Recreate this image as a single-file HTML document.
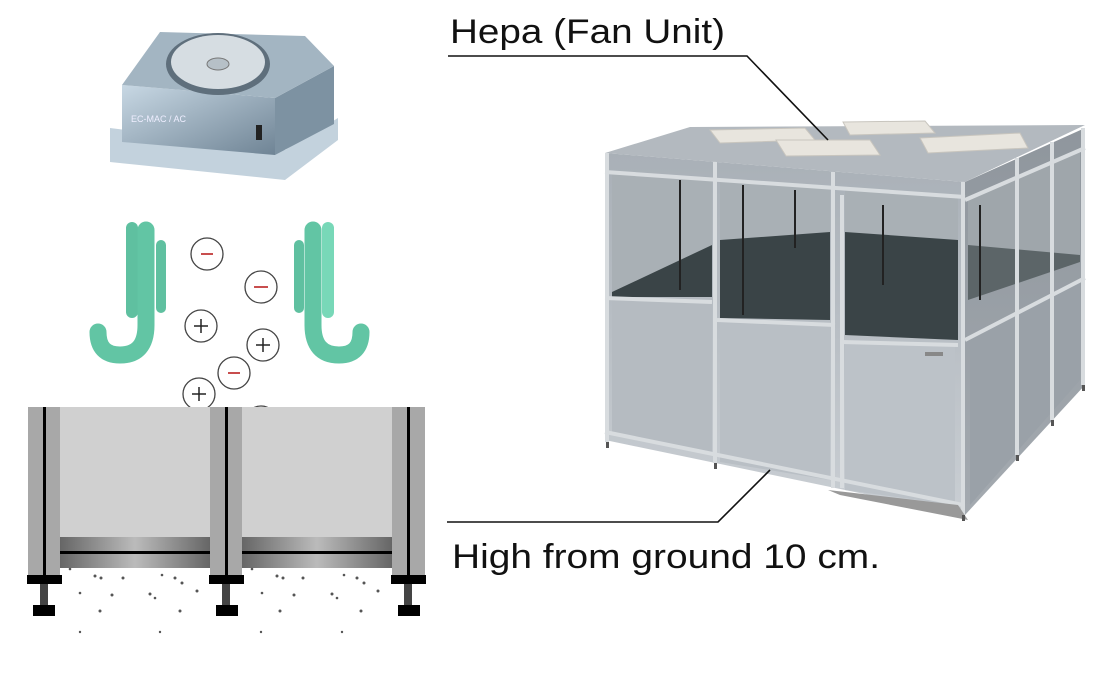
<!DOCTYPE html>
<html><head><meta charset="utf-8"><style>
html,body{margin:0;padding:0;background:#fff;}
svg{display:block;}
text{font-family:"Liberation Sans",Arial,sans-serif;}
</style></head><body>
<svg width="1116" height="676" viewBox="0 0 1116 676" xmlns="http://www.w3.org/2000/svg">
<defs>
<linearGradient id="bar" x1="0" x2="1" y1="0" y2="0">
<stop offset="0" stop-color="#666"/><stop offset="0.5" stop-color="#bbb"/><stop offset="1" stop-color="#666"/>
</linearGradient>
<linearGradient id="fanbox" x1="0" x2="1" y1="0" y2="1">
<stop offset="0" stop-color="#c8d8e4"/><stop offset="1" stop-color="#6f8495"/>
</linearGradient>
<linearGradient id="front" x1="0" x2="0" y1="0" y2="1">
<stop offset="0" stop-color="#a9b0b7"/><stop offset="1" stop-color="#c9ced3"/>
</linearGradient>
<linearGradient id="side" x1="0" x2="0" y1="0" y2="1">
<stop offset="0" stop-color="#8f969d"/><stop offset="1" stop-color="#a4aab0"/>
</linearGradient>
</defs>

<!-- Fan unit top-left -->
<polygon points="110,128 285,150 338,118 338,140 285,180 110,162" fill="#c3d2dd"/>
<polygon points="122,85 275,98 275,155 122,142" fill="url(#fanbox)"/>
<polygon points="275,98 334,66 334,124 275,155" fill="#7d92a2"/>
<polygon points="122,85 160,32 305,36 334,66 275,98" fill="#a3b5c2"/>
<ellipse cx="218" cy="64" rx="52" ry="31" fill="#5f6f7c"/>
<ellipse cx="218" cy="62" rx="47" ry="27" fill="#d6dde2"/>
<ellipse cx="218" cy="64" rx="11" ry="6" fill="#b6c0c7" stroke="#777"/>
<text x="131" y="122" font-size="9" fill="#eef">EC-MAC / AC</text>
<rect x="256" y="125" width="6" height="15" fill="#222"/>

<!-- Ions -->
<g fill="#fff" stroke="#444" stroke-width="1.3">
<circle cx="207" cy="254" r="16"/><circle cx="261" cy="287" r="16"/>
<circle cx="201" cy="326" r="16"/><circle cx="263" cy="345" r="16"/>
<circle cx="234" cy="373" r="16"/><circle cx="199" cy="394" r="16"/>
<circle cx="261" cy="422" r="16"/>
</g>
<g stroke="#b22" stroke-width="1.6">
<line x1="201" y1="254" x2="213" y2="254"/><line x1="254" y1="287" x2="268" y2="287"/><line x1="228" y1="373" x2="240" y2="373"/>
</g>
<g stroke="#222" stroke-width="1.5">
<line x1="194" y1="326" x2="208" y2="326"/><line x1="201" y1="319" x2="201" y2="333"/>
<line x1="256" y1="345" x2="270" y2="345"/><line x1="263" y1="338" x2="263" y2="352"/>
<line x1="192" y1="394" x2="206" y2="394"/><line x1="199" y1="387" x2="199" y2="401"/>
</g>

<!-- Green hands -->
<g stroke-linecap="round" fill="none">
<line x1="132" y1="228" x2="132" y2="312" stroke="#5fc0a0" stroke-width="12"/>
<line x1="161" y1="245" x2="161" y2="308" stroke="#5fc0a0" stroke-width="10"/>
<path d="M146 230 L146 325 Q146 355 120 355 Q98 355 98 332" stroke="#62c5a4" stroke-width="17"/>
<path d="M313 230 L313 325 Q313 355 339 355 Q361 355 361 332" stroke="#62c5a4" stroke-width="17"/>
<line x1="299" y1="245" x2="299" y2="308" stroke="#5fc0a0" stroke-width="10"/>
<line x1="328" y1="228" x2="328" y2="312" stroke="#78d8b8" stroke-width="12"/>
</g>

<!-- Bottom-left panels -->
<rect x="60" y="407" width="150" height="130" fill="#d0d0d0"/>
<rect x="242" y="407" width="150" height="130" fill="#d0d0d0"/>
<rect x="60" y="537" width="150" height="31" fill="url(#bar)"/>
<rect x="242" y="537" width="150" height="31" fill="url(#bar)"/>
<rect x="60" y="551" width="150" height="3" fill="#000"/>
<rect x="242" y="551" width="150" height="3" fill="#000"/>
<g fill="#a8a8a8">
<rect x="28" y="407" width="32" height="168"/><rect x="210" y="407" width="32" height="168"/><rect x="392" y="407" width="33" height="168"/>
</g>
<g fill="#000">
<rect x="43" y="407" width="3" height="168"/><rect x="225" y="407" width="3" height="168"/><rect x="407" y="407" width="3" height="168"/>
<rect x="27" y="575" width="35" height="9"/><rect x="209" y="575" width="35" height="9"/><rect x="391" y="575" width="35" height="9"/>
<rect x="33" y="605" width="22" height="11"/><rect x="216" y="605" width="22" height="11"/><rect x="398" y="605" width="22" height="11"/>
</g>
<g fill="#444">
<rect x="40" y="584" width="8" height="21"/><rect x="222" y="584" width="8" height="21"/><rect x="404" y="584" width="8" height="21"/>
</g>
<g fill="#555">
<circle cx="70" cy="569" r="1.3"/><circle cx="95" cy="576" r="1.5"/><circle cx="101" cy="578" r="1.5"/><circle cx="123" cy="578" r="1.5"/><circle cx="80" cy="593" r="1.3"/><circle cx="112" cy="595" r="1.5"/><circle cx="150" cy="594" r="1.5"/><circle cx="175" cy="578" r="1.5"/><circle cx="182" cy="583" r="1.5"/><circle cx="197" cy="591" r="1.5"/><circle cx="100" cy="611" r="1.5"/><circle cx="180" cy="611" r="1.5"/><circle cx="80" cy="632" r="1.2"/><circle cx="160" cy="632" r="1.2"/><circle cx="162" cy="575" r="1.3"/><circle cx="155" cy="598" r="1.3"/>
<circle cx="252" cy="569" r="1.3"/><circle cx="277" cy="576" r="1.5"/><circle cx="283" cy="578" r="1.5"/><circle cx="303" cy="578" r="1.5"/><circle cx="262" cy="593" r="1.3"/><circle cx="294" cy="595" r="1.5"/><circle cx="332" cy="594" r="1.5"/><circle cx="357" cy="578" r="1.5"/><circle cx="364" cy="583" r="1.5"/><circle cx="378" cy="591" r="1.5"/><circle cx="280" cy="611" r="1.5"/><circle cx="361" cy="611" r="1.5"/><circle cx="261" cy="632" r="1.2"/><circle cx="342" cy="632" r="1.2"/><circle cx="344" cy="575" r="1.3"/><circle cx="337" cy="598" r="1.3"/>
</g>

<!-- Cleanroom -->
<polygon points="605,153 690,127 1085,125 965,182" fill="#b3b9bf"/>
<polygon points="605,153 965,182 965,515 605,440" fill="url(#front)"/>
<polygon points="965,182 1085,128 1085,385 965,515" fill="url(#side)"/>
<g fill="#e8e5de" stroke="#c8c5be">
<polygon points="710,130 805,128 815,140 720,143"/>
<polygon points="843,122 925,121 935,133 850,135"/>
<polygon points="776,140 870,140 880,155 786,156"/>
<polygon points="920,138 1020,133 1028,148 928,153"/>
</g>
<!-- glass upper regions -->
<polygon points="612,172 712,177 712,297 612,297" fill="#a9b0b5"/>
<polygon points="720,180 830,188 830,320 720,318" fill="#a9b0b5"/>
<polygon points="845,190 958,198 958,340 845,335" fill="#a9b0b5"/>
<polygon points="968,200 1080,150 1080,262 968,300" fill="#9fa6ab"/>
<!-- dark interior floor -->
<polygon points="612,297 612,292 712,245 712,297" fill="#3a4447"/>
<polygon points="720,240 830,232 830,320 720,318" fill="#3a4447"/>
<polygon points="845,232 958,240 958,340 845,335" fill="#3a4447"/>
<polygon points="968,245 1080,255 1080,262 968,300" fill="#5c6568"/>
<!-- lower panels -->
<polygon points="612,300 712,303 712,452 612,433" fill="#b5bbc1"/>
<polygon points="720,323 830,327 830,480 720,462" fill="#b9bfc5"/>
<polygon points="845,343 955,346 955,505 845,490" fill="#bcc2c8"/>
<polygon points="970,340 1080,280 1080,380 970,505" fill="#9aa1a8"/>
<!-- frame posts -->
<g stroke="#d8dcdf" stroke-width="4">
<line x1="607" y1="153" x2="607" y2="442"/><line x1="715" y1="162" x2="715" y2="463"/>
<line x1="833" y1="172" x2="833" y2="488"/><line x1="842" y1="195" x2="842" y2="488"/>
<line x1="963" y1="182" x2="963" y2="515"/><line x1="1017" y1="158" x2="1017" y2="455"/>
<line x1="1052" y1="142" x2="1052" y2="420"/><line x1="1083" y1="128" x2="1083" y2="385"/>
<line x1="605" y1="172" x2="965" y2="197"/><line x1="605" y1="298" x2="712" y2="302"/>
<line x1="717" y1="320" x2="835" y2="325"/><line x1="842" y1="342" x2="958" y2="345"/>
<line x1="965" y1="340" x2="1085" y2="278"/><line x1="965" y1="200" x2="1085" y2="148"/>
<line x1="605" y1="432" x2="963" y2="505"/>
</g>
<g stroke="#222" stroke-width="2">
<line x1="680" y1="180" x2="680" y2="290"/><line x1="743" y1="185" x2="743" y2="315"/>
<line x1="795" y1="190" x2="795" y2="248"/><line x1="883" y1="205" x2="883" y2="285"/>
<line x1="980" y1="205" x2="980" y2="300"/>
</g>
<polygon points="828,490 958,505 968,520 840,495" fill="#999"/>
<rect x="925" y="352" width="18" height="4" fill="#888"/>
<g fill="#555"><rect x="606" y="442" width="3" height="6"/><rect x="714" y="463" width="3" height="6"/><rect x="962" y="515" width="3" height="6"/><rect x="1016" y="455" width="3" height="6"/><rect x="1051" y="420" width="3" height="6"/><rect x="1082" y="385" width="3" height="6"/></g>

<!-- Labels -->
<text x="450" y="43" font-size="34" fill="#111" textLength="275" lengthAdjust="spacingAndGlyphs">Hepa (Fan Unit)</text>
<polyline points="448,56 747,56 828,140" fill="none" stroke="#111" stroke-width="1.6"/>
<text x="452" y="568" font-size="34" fill="#111" textLength="428" lengthAdjust="spacingAndGlyphs">High from ground 10 cm.</text>
<polyline points="447,522 718,522 770,470" fill="none" stroke="#111" stroke-width="1.6"/>
</svg>
</body></html>
